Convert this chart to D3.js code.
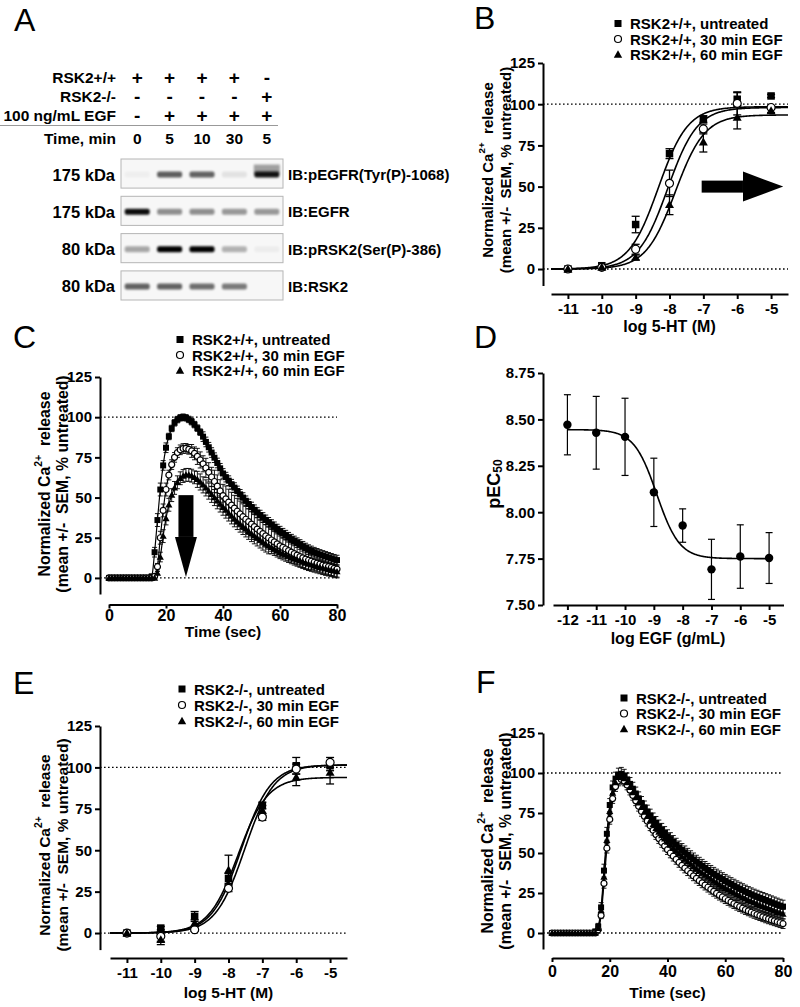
<!DOCTYPE html>
<html><head><meta charset="utf-8">
<script src="https://cdn.jsdelivr.net/npm/d3@7"></script>
<style>
body{margin:0;background:#fff}
svg{display:block}
text{font-family:"Liberation Sans",Arial,Helvetica,sans-serif;font-weight:bold;fill:#000}
</style></head><body>
<svg id="fig" width="800" height="1007"></svg>
<script>
// ================= DATA =================
// Panel A – western blot
const laneLabels = ["0","5","10","30","5"];
const rowRSK2wt = ["+","+","+","+","-"];
const rowRSK2ko = ["-","-","-","-","+"];
const rowEGF = ["-","+","+","+","+"];
const blotNames = ["IB:pEGFR(Tyr(P)-1068)","IB:EGFR","IB:pRSK2(Ser(P)-386)","IB:RSK2"];
const blotMW = ["175 kDa","175 kDa","80 kDa","80 kDa"];
const bandPEGFR = [0.03,0.62,0.6,0.08,0.92];
const bandPEGFRsmear = [0,0,0,0,0.35];
const bandEGFR = [0.95,0.42,0.42,0.38,0.38];
const bandPRSK2 = [0.32,1,1,0.28,0.04];
const bandRSK2 = [0.6,0.6,0.55,0.5,0];

// Panels B & E – concentration response (log 5-HT, M)
const logHT = [-11,-10,-9,-8,-7,-6,-5];
const bUntreated = [0,2,27,70,91,103,105];
const bUntreatedSem = [0.5,0.5,5,3,2,4,1];
const b30 = [0,1,12,52,85,100.5,98];
const b30Sem = [0.5,0.5,3,8,3,7,1];
const b60 = [0,1,7,39,77,92,96];
const b60Sem = [0.5,0.5,1.5,6,6,7,1];
const bFitTop = [98.5,98,93.5];
const bFitLogEC50 = [-8.33,-8.05,-7.83];
const bFitHill = [1,1,1];

const eUntreated = [0,3,10,33,77,101,101];
const eUntreatedSem = [0.5,1,3,3,2,5,3];
const e30 = [0,-2,2,27,70,99,103];
const e30Sem = [0.5,3,1,2,2,3,3];
const e60 = [0,-4,6,38,74,94,97];
const e60Sem = [0.5,3,2,9,3,5,7];
const eFitTop = [101.5,101.5,94];
const eFitLogEC50 = [-7.62,-7.52,-7.72];
const eFitHill = [1,1,1];

// Panel D – pEC50 vs log EGF
const logEGF = [-12,-11,-10,-9,-8,-7,-6,-5];
const pEC50 = [8.471,8.428,8.406,8.107,7.928,7.692,7.761,7.753];
const pEC50Sem = [0.162,0.196,0.208,0.184,0.09,0.162,0.171,0.137];
const dFit = {top:8.445, bottom:7.75, logIC50:-8.9, hill:1.1};

// Panels C & F – time course (s)
const timeSec = d3.range(0,81);
const cUntreated = [0,0,0,0,0,0,0,0,0,0,0,0,0,0,0,
 1,16,36,55,70,81,88,93,96.5,98.5,99.6,
 100,99.6,98.6,97.2,95.4,93.2,90.7,87.9,84.6,81.3,
 78,74.8,71.5,68.2,65,
 62.7,60.5,58.3,56.2,54.1,52,50,48,46,44.1,
 42.4,40.7,39.1,37.6,36.1,34.6,33.2,31.8,30.4,29.1,
 27.8,26.6,25.3,24.1,23,21.9,20.8,19.7,18.6,17.6,
 16.8,16,15.3,14.6,14,13.4,12.8,12.2,11.6,11.1];
const cUntreatedSem = [0,0,0,0,0,0,0,0,0,0,0,0,0,0,0,
 1,3,4,4,3,3,2,2,2,2,2,
 2,2,2,2,2,2,2,3,3,3,
 3,3,3,3,3,
 3,3,3,3,3,3,3,3,3,3,
 3,3,3,3,3,3,3,3,3,3,
 3,3,3,3,3,3,3,3,3,3,
 3,3,3,3,3,3,3,3,3,3];
const c30 = [0,0,0,0,0,0,0,0,0,0,0,0,0,0,0,0,
 1,7,25,42,55,64,70.5,75,78,79.7,
 80.5,80.6,80,79,77.5,75.6,73.4,71,68.4,65.7,
 62.8,60,57.1,54.1,51.2,49.2,47.2,45.3,43.4,41.5,
 39.8,38.1,36.5,35,33.5,31.9,30.4,29,27.6,26.2,
 24.9,23.6,22.4,21.2,20,19,18,17,16,15.1,
 14.2,13.3,12.5,11.7,11,10.4,9.8,9.2,8.6,8,
 7.5,7,6.5,6,5.5];
const c30Sem = [0,0,0,0,0,0,0,0,0,0,0,0,0,0,0,0,
 0,2,4,4,4,3,3,3,3,3,
 3,3,3,4,4,5,5,5,6,6,
 6,7,7,7,7,8,8,8,8,8,
 8,8,8,8,8,8,7,7,7,7,
 7,7,7,7,7,6,6,6,6,6,
 6,6,6,6,6,5,5,5,5,5,
 5,5,5,5,5];
const c60 = [0,0,0,0,0,0,0,0,0,0,0,0,0,0,0,0,0,
 3,13,26,37,45.5,51.5,56,59.5,62,63.4,
 64.1,64.1,63.6,62.6,61.3,59.7,57.9,56,54,52,
 50,48,46,44,42.2,40.4,38.6,36.8,35.1,33.5,
 32,30.5,29,27.6,26.2,24.9,23.6,22.3,21.1,20,
 19,18,17,16,15.2,14.4,13.6,12.8,12,11.3,
 10.6,9.9,9.2,8.6,8.1,7.6,7.1,6.6,6.1,5.6,
 5.2,4.8,4.4,4];
const c60Sem = [0,0,0,0,0,0,0,0,0,0,0,0,0,0,0,0,0,
 1,3,4,4,4,4,4,4,4,4,
 4,4,4,4,5,5,5,5,5,5,
 5,5,5,5,5,5,5,5,5,5,
 5,5,5,5,5,5,5,5,5,5,
 4,4,4,4,4,4,4,4,4,4,
 4,4,4,4,4,4,4,4,4,4,
 4,4,4,4];

const fUntreated = [0,0,0,0,0,0,0,0,0,0,0,0,0,0,0,
 1,4,16,39,62,80,91,96.5,99,99.5,
 98.3,96,93.2,90.2,87.2,84.2,81.3,78.5,75.9,73.4,
 71,68.8,66.6,64.5,62.5,60.5,58.7,56.9,55.2,53.5,
 51.9,50.4,48.9,47.4,46,44.6,43.3,42,40.7,39.4,
 38.2,37,35.9,34.8,33.7,32.6,31.6,30.6,29.6,28.6,
 27.7,26.8,25.9,25,24.2,23.4,22.7,22,21.3,20.6,
 19.9,19.2,18.5,17.8,17.1,16.5];
const fUntreatedSem = [0,0,0,0,0,0,0,0,0,0,0,0,0,0,0,
 1,2,3,4,4,4,4,4,4,4,
 4,4,4,4,4,4,4,4,4,4,
 4,4,4,4,4,4,4,4,4,4,
 4,4,4,4,4,4,4,4,4,4,
 4,4,4,4,4,4,4,4,4,4,
 4,4,4,4,4,4,4,4,4,4,
 4,4,4,4,4,4];
const f30 = [0,0,0,0,0,0,0,0,0,0,0,0,0,0,0,0,
 2,11,31,53,71,84,91.5,95,96,95,
 92.5,89.3,86,82.6,79.2,76,72.9,69.9,67,64.2,
 61.5,59,56.6,54.3,52.1,50,48,46,44.1,42.3,
 40.6,38.9,37.3,35.7,34.2,32.7,31.3,29.9,28.6,27.3,
 26,24.8,23.6,22.5,21.4,20.3,19.3,18.3,17.3,16.4,
 15.5,14.6,13.8,13,12.2,11.5,10.8,10.1,9.4,8.8,
 8.2,7.6,7,6.4,5.8];
const f30Sem = [0,0,0,0,0,0,0,0,0,0,0,0,0,0,0,0,
 1,2,3,3,3,3,3,3,3,3,
 3,3,3,3,3,3,3,3,3,3,
 3,3,3,3,3,3,3,3,3,3,
 3,3,3,3,3,3,3,3,3,3,
 3,3,3,3,3,3,3,3,3,3,
 3,3,3,3,3,3,3,3,3,3,
 3,3,3,3,3];
const f60 = [0,0,0,0,0,0,0,0,0,0,0,0,0,0,0,0,
 3,14,35,58,76,87.5,94,97.3,97.8,96.5,
 94,91,87.8,84.6,81.4,78.5,75.6,72.9,70.3,67.8,
 65.4,63.1,60.9,58.8,56.8,54.9,53,51.2,49.5,47.8,
 46.2,44.6,43.1,41.6,40.2,38.8,37.5,36.2,34.9,33.7,
 32.5,31.3,30.2,29.1,28,27,26,25,24,23.1,
 22.2,21.3,20.4,19.6,18.8,18,17.2,16.5,15.8,15.1,
 14.4,13.7,13,12.4,11.8];
const f60Sem = [0,0,0,0,0,0,0,0,0,0,0,0,0,0,0,0,
 1,2,3,3,3,3,3,3,3,3,
 3,3,3,3,3,3,3,3,3,3,
 3,3,3,3,3,3,3,3,3,3,
 3,3,3,3,3,3,3,3,3,3,
 3,3,3,3,3,3,3,3,3,3,
 3,3,3,3,3,3,3,3,3,3,
 3,3,3,3,3];

const pctTicks = [0,25,50,75,100,125];
const timeTicks = [0,20,40,60,80];
const pecTicks = [7.5,7.75,8,8.25,8.5,8.75];
const legendWT = ["RSK2+/+, untreated","RSK2+/+, 30 min EGF","RSK2+/+, 60 min EGF"];
const legendKO = ["RSK2-/-, untreated","RSK2-/-, 30 min EGF","RSK2-/-, 60 min EGF"];
const markerTypes = ["square","circle","triangle"];

// ================= DRAWING =================
const svg = d3.select("#fig");
svg.append("rect").attr("width",800).attr("height",1007).attr("fill","#fff");
const defs = svg.append("defs");
defs.append("filter").attr("id","blur").attr("x","-50%").attr("y","-100%").attr("width","200%").attr("height","300%")
  .append("feGaussianBlur").attr("stdDeviation",1.3);

const FS = 15;
const hyphenFmt = d => String(d);

function panelLabel(t,x,y){
  svg.append("text").attr("x",x).attr("y",y).attr("font-size",32).style("font-weight","normal").text(t);
}
function styleAxis(ax, fs){
  ax.attr("font-size",null).attr("font-family",null);
  ax.select(".domain").attr("stroke","#000").attr("stroke-width",2);
  ax.selectAll(".tick line").attr("stroke","#000").attr("stroke-width",2);
  ax.selectAll(".tick text").attr("font-size",fs||FS).attr("fill","#000");
}
function marker(sel, type, s){
  if(type==="square"){
    sel.append("rect").attr("x",-s/2).attr("y",-s/2).attr("width",s).attr("height",s).attr("fill","#000");
  } else if(type==="circle"){
    sel.append("circle").attr("r",s/2).attr("fill","#fff").attr("stroke","#000").attr("stroke-width",1.2);
  } else {
    const h=s*1.0, w=s*0.6;
    sel.append("path").attr("d",`M0,${-h*0.6}L${w},${h*0.45}L${-w},${h*0.45}Z`).attr("fill","#000");
  }
}
function legend(g, x, ys, labels, s){
  labels.forEach((lab,i)=>{
    const row = g.append("g").attr("transform",`translate(${x},${ys[i]})`);
    marker(row, markerTypes[i], s);
    row.append("text").attr("x",12).attr("dominant-baseline","central").attr("font-size",FS).text(lab);
  });
}
function yTitle(g, x1, x2, cy, fs){
  const t1 = g.append("text").attr("transform",`translate(${x1},${cy}) rotate(-90)`)
    .attr("text-anchor","middle").attr("dominant-baseline","central").attr("font-size",fs);
  t1.append("tspan").text("Normalized Ca");
  t1.append("tspan").attr("dy",-6).attr("font-size",fs*0.66).text("2+");
  t1.append("tspan").attr("dy",6).text("\u00a0 release");
  g.append("text").attr("transform",`translate(${x2},${cy}) rotate(-90)`)
    .attr("text-anchor","middle").attr("dominant-baseline","central").attr("font-size",fs)
    .text("(mean +/-\u00a0 SEM, % untreated)");
}
function refLines(g, x0, x1, y){
  [0,100].forEach(v=>{
    g.append("line").attr("x1",x0).attr("x2",x1).attr("y1",y(v)).attr("y2",y(v))
      .attr("stroke","#000").attr("stroke-width",1.3).attr("stroke-dasharray","1.6,2.4");
  });
}
function errBars(g, pts, x, y, cap, sw, minE){
  const eb = g.append("g").attr("stroke","#000").attr("stroke-width",sw);
  pts.filter(p=>p.e>minE).forEach(p=>{
    const xx=x(p.x), y1=y(p.v+p.e), y2=y(p.v-p.e);
    eb.append("line").attr("x1",xx).attr("x2",xx).attr("y1",y1).attr("y2",y2);
    eb.append("line").attr("x1",xx-cap).attr("x2",xx+cap).attr("y1",y1).attr("y2",y1);
    eb.append("line").attr("x1",xx-cap).attr("x2",xx+cap).attr("y1",y2).attr("y2",y2);
  });
}

// ---------- Panel A ----------
(function(){
  panelLabel("A",14,31);
  const g = svg.append("g");
  const lane = d3.scaleBand().domain(d3.range(5)).range([121,283]);
  const lc = i => lane(i)+lane.bandwidth()/2;
  const rows = [["RSK2+/+",rowRSK2wt,77],["RSK2-/-",rowRSK2ko,96],["100 ng/mL EGF",rowEGF,115],["Time, min",laneLabels,138]];
  rows.forEach(([lab,vals,yy])=>{
    g.append("text").attr("x",116).attr("y",yy).attr("text-anchor","end").attr("dominant-baseline","central").attr("font-size",15.5).text(lab);
    vals.forEach((v,i)=>{
      const sign = (v==="+"||v==="-");
      g.append("text").attr("x",lc(i)).attr("y",yy).attr("text-anchor","middle").attr("dominant-baseline","central")
        .attr("font-size",sign?19:15.5).text(v);
    });
  });
  g.append("line").attr("x1",0).attr("x2",278).attr("y1",125.5).attr("y2",125.5).attr("stroke","#999").attr("stroke-width",1);
  const rowY = d3.scaleBand().domain(d3.range(4)).range([159,300]).paddingInner(0.22);
  const bands = [bandPEGFR,bandEGFR,bandPRSK2,bandRSK2];
  bands.forEach((vals,r)=>{
    const y0 = rowY(r), bh = rowY.bandwidth(), cy = y0+bh/2+1;
    g.append("rect").attr("x",121).attr("y",y0).attr("width",162).attr("height",bh)
      .attr("fill","#f7f7f7").attr("stroke","#b5b5b5").attr("stroke-width",1);
    if(r===0){
      bandPEGFRsmear.forEach((v,i)=>{ if(v>0) g.append("rect").attr("x",lc(i)-13).attr("y",cy-10).attr("width",26).attr("height",9)
        .attr("fill","#000").attr("opacity",v).attr("filter","url(#blur)"); });
    }
    vals.forEach((v,i)=>{
      if(v<=0) return;
      g.append("rect").attr("x",lc(i)-12.5).attr("y",cy-3).attr("width",25).attr("height",6).attr("rx",2)
        .attr("fill","#000").attr("opacity",v).attr("filter","url(#blur)");
    });
    g.append("text").attr("x",115).attr("y",cy).attr("text-anchor","end").attr("dominant-baseline","central").attr("font-size",16.5).text(blotMW[r]);
    g.append("text").attr("x",288).attr("y",cy).attr("dominant-baseline","central").attr("font-size",15).text(blotNames[r]);
  });
})();

// ---------- Dose-response panels (B, E) ----------
function dosePanel(o){
  const g = svg.append("g");
  const x = d3.scaleLinear().domain([-11.5,-4.5]).range(o.xr);
  const y = d3.scaleLinear().domain([-10,125]).range(o.yr);
  refLines(g, o.yAxisX, o.xr[1], y);
  const ya = g.append("g").attr("transform",`translate(${o.yAxisX},0)`)
    .call(d3.axisLeft(y).tickValues(pctTicks).tickSize(5).tickPadding(3).tickSizeOuter(0));
  styleAxis(ya);
  const xa = g.append("g").attr("transform",`translate(0,${o.xAxisY})`)
    .call(d3.axisBottom(x).tickValues(logHT).tickFormat(hyphenFmt).tickSize(5).tickPadding(4).tickSizeOuter(0));
  styleAxis(xa);
  // fitted curves
  const xs = d3.range(-11.5,-4.49,0.02);
  o.series.forEach(s=>{
    const f = v => s.top/(1+Math.pow(10,(s.ec50-v)*s.hill));
    g.append("path").attr("d",d3.line().x(v=>x(v)).y(v=>y(f(v)))(xs))
      .attr("fill","none").attr("stroke","#000").attr("stroke-width",1.6);
  });
  o.series.forEach(s=>{
    errBars(g, logHT.map((lx,i)=>({x:lx,v:s.vals[i],e:s.sem[i]})), x, y, 4, 1.3, 0.9);
  });
  o.series.forEach((s,si)=>{
    logHT.forEach((lx,i)=>{
      const m = g.append("g").attr("transform",`translate(${x(lx)},${y(s.vals[i])})`);
      marker(m, markerTypes[si], si===1?8:7.5);
    });
  });
  legend(g, o.legX, o.legY, o.legend, 7);
  yTitle(g, o.yAxisX-56, o.yAxisX-38, o.titleCY, o.yTitleFS);
  g.append("text").attr("x",(o.xr[0]+o.xr[1])/2).attr("y",o.xTitleY).attr("text-anchor","middle")
    .attr("dominant-baseline","central").attr("font-size",o.xTitleFS).text("log 5-HT (M)");
  return {g,x,y};
}

const B = dosePanel({
  xr:[551,788], yr:[285.5,63], yAxisX:543, xAxisY:294,
  series:[
    {vals:bUntreated,sem:bUntreatedSem,top:bFitTop[0],ec50:bFitLogEC50[0],hill:bFitHill[0]},
    {vals:b30,sem:b30Sem,top:bFitTop[1],ec50:bFitLogEC50[1],hill:bFitHill[1]},
    {vals:b60,sem:b60Sem,top:bFitTop[2],ec50:bFitLogEC50[2],hill:bFitHill[2]}],
  legX:618, legY:[23.5,39,54.5], legend:legendWT, titleCY:170, xTitleY:326, yTitleFS:15, xTitleFS:16
});
panelLabel("B",474,29);
// arrow in B (annotation)
(function(){
  const {g,x,y} = B; const yc = y(50);
  g.append("rect").attr("x",x(-7.05)).attr("y",yc-6).attr("width",x(-5.83)-x(-7.05)).attr("height",12).attr("fill","#000");
  g.append("path").attr("d",`M${x(-5.83)},${yc-15}L${x(-4.64)},${yc}L${x(-5.83)},${yc+15}Z`).attr("fill","#000");
})();

const E = dosePanel({
  xr:[110,347], yr:[949.6,726], yAxisX:100, xAxisY:958,
  series:[
    {vals:eUntreated,sem:eUntreatedSem,top:eFitTop[0],ec50:eFitLogEC50[0],hill:eFitHill[0]},
    {vals:e30,sem:e30Sem,top:eFitTop[1],ec50:eFitLogEC50[1],hill:eFitHill[1]},
    {vals:e60,sem:e60Sem,top:eFitTop[2],ec50:eFitLogEC50[2],hill:eFitHill[2]}],
  legX:182, legY:[689,705,721], legend:legendKO, titleCY:845, xTitleY:992, yTitleFS:15.5, xTitleFS:15.5
});
panelLabel("E",13,694);

// ---------- Time-course panels (C, F) ----------
function timePanel(o){
  const g = svg.append("g");
  const x = d3.scaleLinear().domain([0,80]).range(o.xr);
  const y = d3.scaleLinear().domain([-10,125]).range(o.yr);
  refLines(g, o.yAxisX, o.xr[1], y);
  const ya = g.append("g").attr("transform",`translate(${o.yAxisX},0)`)
    .call(d3.axisLeft(y).tickValues(pctTicks).tickSize(5).tickPadding(3).tickSizeOuter(0));
  styleAxis(ya);
  const xa = g.append("g").attr("transform",`translate(0,${o.xAxisY})`)
    .call(d3.axisBottom(x).tickValues(timeTicks).tickSize(4).tickPadding(o.xPad).tickSizeOuter(0));
  styleAxis(xa, 16);
  o.series.forEach(s=>{
    errBars(g, timeSec.map((t,i)=>({x:t,v:s.vals[i],e:s.sem[i]})), x, y, 2.5, 0.9, 0.9);
  });
  o.series.forEach(s=>{
    g.append("path").attr("d",d3.line().curve(d3.curveMonotoneX).x((v,i)=>x(timeSec[i])).y(v=>y(v))(s.vals))
      .attr("fill","none").attr("stroke","#000").attr("stroke-width",1.2);
  });
  o.series.forEach((s,si)=>{
    timeSec.forEach((t,i)=>{
      const m = g.append("g").attr("transform",`translate(${x(t)},${y(s.vals[i])})`);
      marker(m, markerTypes[si], 6);
    });
  });
  legend(g, o.legX, o.legY, o.legend, 7);
  yTitle(g, o.yAxisX-56, o.yAxisX-38, o.titleCY, 15.8);
  g.append("text").attr("x",(o.xr[0]+o.xr[1])/2).attr("y",o.xTitleY).attr("text-anchor","middle")
    .attr("dominant-baseline","central").attr("font-size",15.5).text("Time (sec)");
  return {g,x,y};
}

const C = timePanel({
  xr:[109,337], yr:[594,377], yAxisX:100, xAxisY:604.5, xPad:1,
  series:[{vals:cUntreated,sem:cUntreatedSem},{vals:c30,sem:c30Sem},{vals:c60,sem:c60Sem}],
  legX:180, legY:[339.5,355,370.5], legend:legendWT, titleCY:484, xTitleY:631
});
panelLabel("C",13,348);
(function(){
  const {g,x,y} = C; const xc = x(27);
  g.append("rect").attr("x",xc-7.5).attr("y",y(51.5)).attr("width",15).attr("height",y(25.5)-y(51.5)).attr("fill","#000");
  g.append("path").attr("d",`M${xc-11},${y(25.5)}L${xc+11},${y(25.5)}L${xc},${y(0.5)}Z`).attr("fill","#000");
})();

const F = timePanel({
  xr:[552,783], yr:[949,733], yAxisX:543, xAxisY:958, xPad:4,
  series:[{vals:fUntreated,sem:fUntreatedSem},{vals:f30,sem:f30Sem},{vals:f60,sem:f60Sem}],
  legX:624, legY:[698,713.5,729], legend:legendKO, titleCY:841, xTitleY:992
});
panelLabel("F",476,693);

// ---------- Panel D ----------
(function(){
  const g = svg.append("g");
  const x = d3.scaleLinear().domain([-12.5,-4.5]).range([553,783.5]);
  const y = d3.scaleLinear().domain([7.5,8.75]).range([605,373]);
  const ya = g.append("g").attr("transform","translate(543,0)")
    .call(d3.axisLeft(y).tickValues(pecTicks).tickFormat(d3.format(".2f")).tickSize(5).tickPadding(3).tickSizeOuter(0));
  styleAxis(ya);
  const xa = g.append("g").attr("transform","translate(0,605)")
    .call(d3.axisBottom(x).tickValues(logEGF).tickFormat(hyphenFmt).tickSize(5).tickPadding(4).tickSizeOuter(0));
  styleAxis(xa);
  const xs = d3.range(-12,-4.99,0.02);
  const f = v => dFit.bottom + (dFit.top-dFit.bottom)/(1+Math.pow(10,(v-dFit.logIC50)*dFit.hill));
  g.append("path").attr("d",d3.line().x(v=>x(v)).y(v=>y(f(v)))(xs)).attr("fill","none").attr("stroke","#000").attr("stroke-width",1.6);
  errBars(g, logEGF.map((lx,i)=>({x:lx,v:pEC50[i],e:pEC50Sem[i]})), x, y, 3.5, 1.2, 0);
  logEGF.forEach((lx,i)=>{
    g.append("circle").attr("cx",x(lx)).attr("cy",y(pEC50[i])).attr("r",4.2).attr("fill","#000");
  });
  const t = g.append("text").attr("transform","translate(494,484) rotate(-90)").attr("text-anchor","middle")
    .attr("dominant-baseline","central").attr("font-size",18);
  t.append("tspan").text("pEC");
  t.append("tspan").attr("dy",4).attr("font-size",12).text("50");
  g.append("text").attr("x",668).attr("y",638).attr("text-anchor","middle").attr("dominant-baseline","central")
    .attr("font-size",16).text("log EGF (g/mL)");
})();
panelLabel("D",474,348);
</script></body></html>
